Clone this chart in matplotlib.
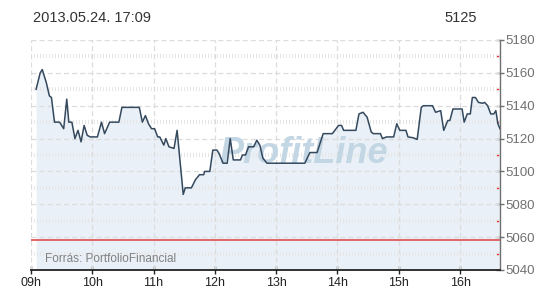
#!/usr/bin/env python3

import matplotlib
matplotlib.use('Agg')
import matplotlib.pyplot as plt
import numpy as np


#%%  Data
times = ['09:05', '09:09', '09:11', '09:15', '09:18', '09:20', '09:23', '09:28', '09:32', '09:35',
         '09:37', '09:40', '09:43', '09:46', '09:49', '09:52', '09:55', '09:58', '10:05', '10:09',
         '10:12', '10:17', '10:26', '10:29', '10:46', '10:49', '10:52', '10:55', '10:58', '11:01',
         '11:04', '11:06', '11:10', '11:12', '11:15', '11:20', '11:23', '11:29', '11:31', '11:37',
         '11:41', '11:45', '11:49', '11:50', '11:55', '11:58', '12:02', '12:04', '12:08', '12:12',
         '12:15', '12:18', '12:25', '12:27', '12:30', '12:33', '12:38', '12:41', '12:44', '12:47',
         '12:51', '13:28', '13:33', '13:40', '13:46', '13:55', '14:01', '14:04', '14:06', '14:18',
         '14:21', '14:25', '14:29', '14:33', '14:35', '14:42', '14:44', '14:48', '14:55', '14:58',
         '15:01', '15:07', '15:09', '15:14', '15:18', '15:22', '15:24', '15:33', '15:36', '15:41',
         '15:44', '15:48', '15:50', '15:53', '16:02', '16:04', '16:07', '16:10', '16:12', '16:15',
         '16:18', '16:22', '16:24', '16:27', '16:30', '16:33', '16:35', '16:37', '16:39']
values = [5150, 5160, 5162, 5154, 5146, 5145, 5130, 5130, 5126, 5144,
          5130, 5130, 5120, 5125, 5118, 5128, 5122, 5121, 5121, 5130,
          5123, 5130, 5130, 5139, 5139, 5130, 5134, 5129, 5126, 5126,
          5121, 5121, 5116, 5120, 5115, 5114, 5125, 5086, 5090, 5090,
          5095, 5098, 5098, 5100, 5100, 5113, 5113, 5111, 5105, 5105,
          5120, 5107, 5107, 5110, 5110, 5115, 5115, 5119, 5116, 5108,
          5105, 5105, 5111.5, 5111.5, 5123, 5123, 5128, 5128, 5125, 5125,
          5135, 5136, 5133, 5124, 5123, 5123, 5120, 5121, 5121, 5129,
          5125, 5125, 5121, 5120.5, 5119.5, 5139, 5140, 5140, 5136, 5137,
          5125, 5131, 5131, 5138, 5138, 5130, 5135, 5135, 5145, 5145,
          5142, 5141.5, 5142, 5140, 5135, 5135, 5137, 5129, 5126]

prev_close = 5058
stamp = '2013.05.24. 17:09'
last_txt = '5125'
hour_ticks = list(range(9, 17))
hour_labels = [f'{h:02d}h' for h in hour_ticks]
y_major = list(range(5040, 5181, 20))
y_minor = list(range(5050, 5180, 20))

t = np.array([int(s[:2]) + int(s[3:]) / 60 for s in times])
v = np.array(values)


#%%  Plotting
plt.rcParams['font.family'] = ['Liberation Sans', 'DejaVu Sans']

fig = plt.figure(figsize=(5.5, 3.0), dpi=100)
ax = fig.add_axes([31/550, 30/300, 469/550, 230/300])

xmin, xmax = 9.0, 16.651
ymin, ymax = 5040, 5180
ax.set_xlim(xmin, xmax)
ax.set_ylim(ymin, ymax)

# Area + line
ax.fill_between(t, v, ymin, color='#e9f0f7', lw=0, zorder=1)
ax.plot(t, v, color='#34495e', lw=1.1, zorder=5)

# Grid: dashed major lines, hatched minor rows
for y in y_major[1:]:
    ax.axhline(y, color='#dcdcdc', lw=0.9, ls=(0, (4, 2.5)), zorder=2)
for y in y_minor:
    ax.axhline(y, color='#e6e6e6', lw=3.0, ls=(0, (0.24, 0.48)), zorder=2)
for h in hour_ticks:
    ax.axvline(h, color='#dcdcdc', lw=0.9, ls=(0, (4, 2.5)), zorder=2)

# Previous close
ax.axhline(prev_close, color='#e06666', lw=1.4, zorder=4)

# Watermark
ax.text(13.45, 5111, 'ProfitLine', fontsize=26, fontweight='bold', fontstyle='italic',
        color='#c3d6e3', ha='center', va='center', zorder=3)

# Source label
ax.text(9.23, 5047, 'Forrás: PortfolioFinancial', fontsize=8.5, color='#808080',
        ha='left', va='center', zorder=6)

# Spines
for s in ['top', 'left']:
    ax.spines[s].set_visible(False)
ax.spines['bottom'].set_color('#222222')
ax.spines['bottom'].set_linewidth(1.3)
ax.spines['right'].set_color('#707070')
ax.spines['right'].set_linewidth(1.0)

# Ticks
ax.set_xticks(hour_ticks)
ax.set_xticklabels(hour_labels)
ax.tick_params(axis='x', direction='inout', length=6, width=1, color='#222222',
               labelsize=9, labelcolor='#222222', pad=2)
ax.yaxis.tick_right()
ax.set_yticks(y_major)
ax.set_yticks(y_minor, minor=True)
ax.tick_params(axis='y', which='major', direction='inout', length=6, width=1, color='#707070',
               labelsize=9.5, labelcolor='#707070', pad=1)
ax.tick_params(axis='y', which='minor', direction='in', length=3, width=1, color='#e03030')

# Header texts
fig.text(33/550, 1 - 18/300, stamp, fontsize=10.5, color='#333333', ha='left', va='center')
fig.text(477/550, 1 - 18/300, last_txt, fontsize=10.5, color='#333333', ha='right', va='center')

plt.savefig('out.png', dpi=100)
